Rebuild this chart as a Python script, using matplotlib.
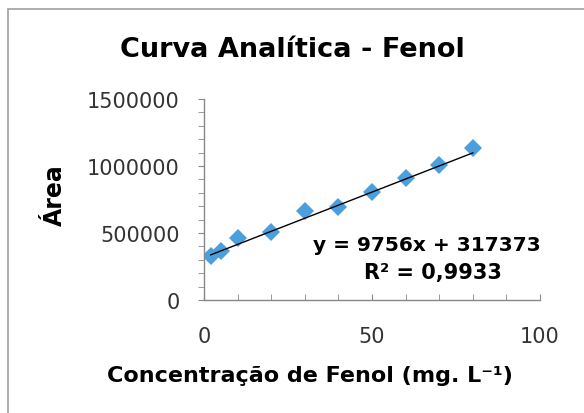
import matplotlib
matplotlib.use("Agg")
import matplotlib.pyplot as plt
from matplotlib.patches import Rectangle
from matplotlib.ticker import MultipleLocator, FuncFormatter

# calibration data: phenol concentration (mg/L) vs peak area
concentracao = [2, 5, 10, 20, 30, 40, 50, 60, 70, 80]
area = [325000, 367000, 462000, 507000, 662000, 692000, 805000, 912000, 1005000, 1132000]

# linear fit reported on the chart
slope = 9756
intercept = 317373
r2 = "0,9933"

plt.rcParams["font.family"] = ["DejaVu Sans"]

W, H = 584, 414
fig = plt.figure(figsize=(W / 100, H / 100), dpi=100)

# outer chart frame (runs off the right/bottom edge)
fig.patches.append(Rectangle((8 / W, -0.1), 1.2, 1 - 10 / H + 0.1,
                             transform=fig.transFigure, fill=False,
                             edgecolor="#a0a0a0", linewidth=1.2))

ax = fig.add_axes([204 / W, 1 - 301 / H, (540 - 204) / W, (301 - 100) / H])

ax.plot(concentracao, area, linestyle="none", marker="D", markersize=9,
        color="#4a9fdc", markeredgewidth=0, zorder=2)

xfit = [concentracao[0], concentracao[-1]]
yfit = [slope * x + intercept for x in xfit]
ax.plot(xfit, yfit, color="black", linewidth=1, zorder=3)

ax.set_xlim(0, 100)
ax.set_ylim(0, 1500000)
ax.xaxis.set_major_locator(MultipleLocator(50))
ax.xaxis.set_minor_locator(MultipleLocator(10))
ax.yaxis.set_major_locator(MultipleLocator(500000))
ax.yaxis.set_minor_locator(MultipleLocator(100000))
ax.yaxis.set_major_formatter(FuncFormatter(lambda v, _: f"{v:.0f}"))

for side in ("top", "right"):
    ax.spines[side].set_visible(False)
for side in ("left", "bottom"):
    ax.spines[side].set_color("#888888")
    ax.spines[side].set_linewidth(1)

ax.tick_params(axis="y", which="both", direction="out", length=4.5,
               color="#888888", labelsize=15, labelcolor="#333333", pad=13)
ax.tick_params(axis="x", which="both", direction="in", length=4,
               color="#888888", labelsize=15, labelcolor="#333333", pad=19)

fig.text(292 / W, 1 - 50 / H, "Curva Analítica - Fenol", ha="center",
         va="center", fontsize=19.5, fontweight="bold")
fig.text(310 / W, 1 - 376 / H, "Concentração de Fenol (mg. L⁻¹)",
         ha="center", va="center", fontsize=16, fontweight="bold")
fig.text(55 / W, 1 - 195 / H, "Área", ha="center", va="center",
         rotation=90, fontsize=17, fontweight="bold")

fig.text(313 / W, 1 - 246 / H, f"y = {slope}x + {intercept}", ha="left",
         va="center", fontsize=14.5, fontweight="bold")
fig.text(433 / W, 1 - 273 / H, f"R² = {r2}", ha="center", va="center",
         fontsize=15, fontweight="bold")

fig.savefig("out.png", dpi=100)
